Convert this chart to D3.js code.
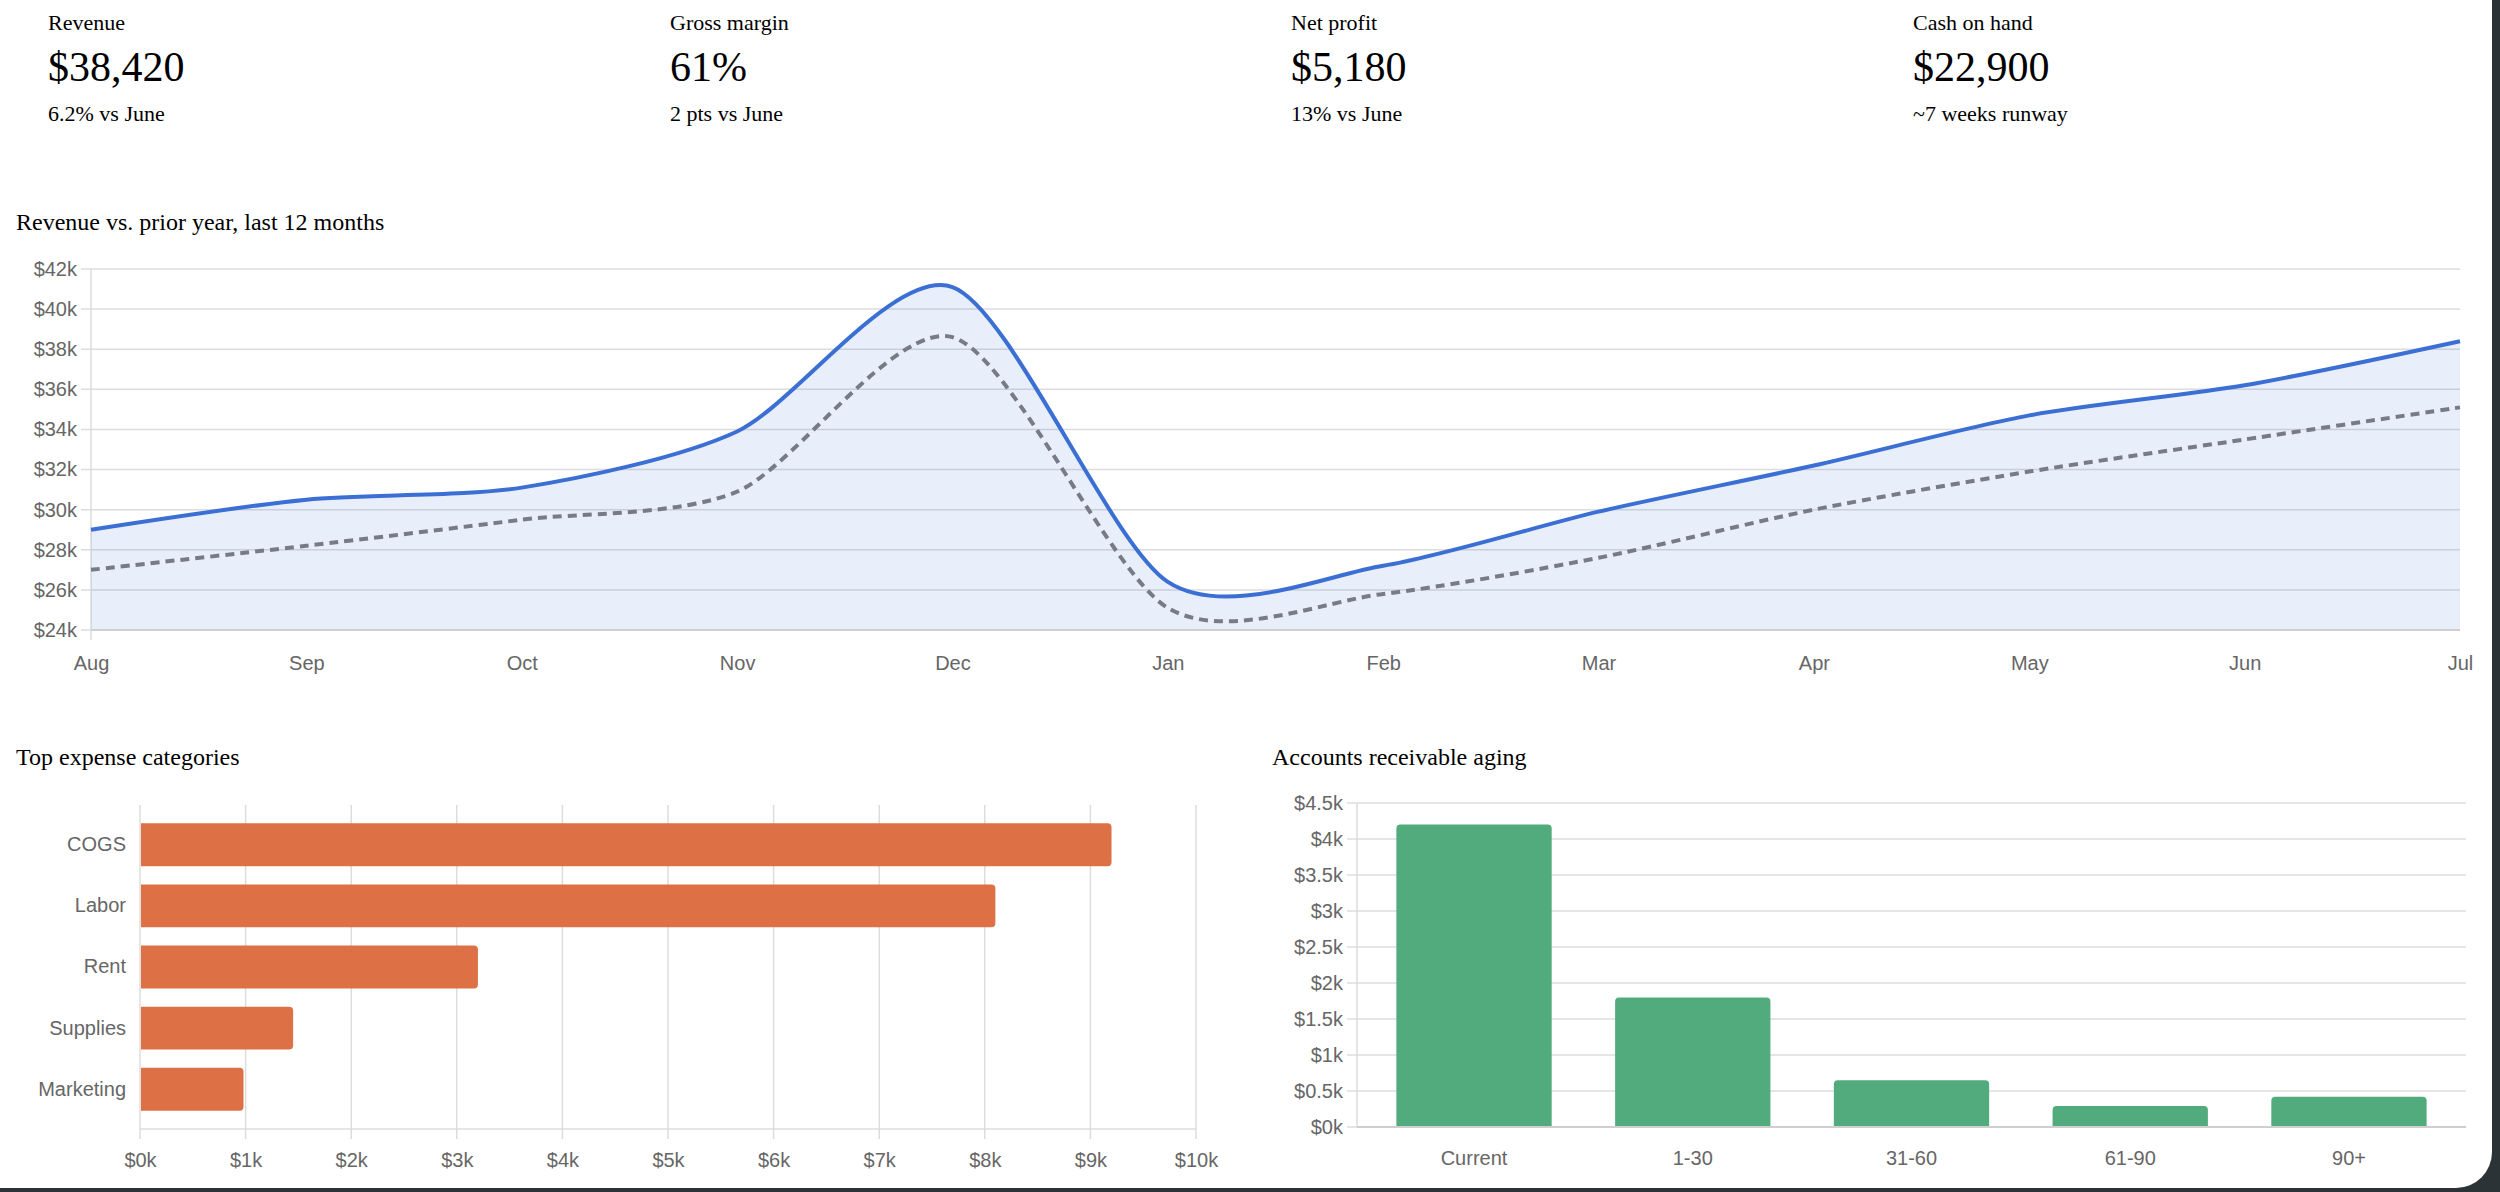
<!DOCTYPE html>
<html><head><meta charset="utf-8">
<script src="https://cdn.jsdelivr.net/npm/d3@7"></script>
<style>
html,body{margin:0;padding:0;background:#2b3336;}
#card{position:absolute;left:0;top:0;width:2492px;height:1188px;background:#fff;border-bottom-right-radius:36px;overflow:hidden;}
svg{display:block;}
</style></head><body><div id="card"><svg id="c" width="2492" height="1188"></svg></div>
<script>
const kpiLabels=["Revenue","Gross margin","Net profit","Cash on hand"];
const kpiValues=["$38,420","61%","$5,180","$22,900"];
const kpiSubs=["6.2% vs June","2 pts vs June","13% vs June","~7 weeks runway"];
const months=["Aug","Sep","Oct","Nov","Dec","Jan","Feb","Mar","Apr","May","Jun","Jul"];
const revenue=[29000,30500,31100,33900,41100,26400,27200,29900,32200,34700,36200,38400];
const priorYear=[27000,28200,29500,30900,38600,25100,25800,27600,30000,31900,33500,35100];
const revTicks=[24000,26000,28000,30000,32000,34000,36000,38000,40000,42000];
const expCats=["COGS","Labor","Rent","Supplies","Marketing"];
const expVals=[9200,8100,3200,1450,980];
const expTicks=[0,1000,2000,3000,4000,5000,6000,7000,8000,9000,10000];
const arCats=["Current","1-30","31-60","61-90","90+"];
const arVals=[4200,1800,650,290,420];
const arTicks=[0,500,1000,1500,2000,2500,3000,3500,4000,4500];

const svg=d3.select("#c");
const serif="'Liberation Serif','Times New Roman',serif";
const sans="'Liberation Sans',Arial,Helvetica,sans-serif";
const grid="#dcdcdc", tickCol="#666";
const kfmt=v=>"$"+(v/1000)+"k";

// KPIs
const kx=[48,670,1291,1913];
kpiLabels.forEach((l,i)=>{
  const g=svg.append("g").attr("transform",`translate(${kx[i]},0)`).style("font-family",serif).attr("fill","#000");
  g.append("text").attr("y",30).attr("font-size",22).text(l);
  g.append("text").attr("y",81).attr("font-size",42).text(kpiValues[i]);
  g.append("text").attr("y",121).attr("font-size",22).text(kpiSubs[i]);
});

function title(x,y,t){svg.append("text").attr("x",x).attr("y",y).attr("font-family",serif).attr("font-size",24).text(t);}

// Line chart
title(16,230,"Revenue vs. prior year, last 12 months");
const L={l:91,r:2460,t:269,b:630};
const x=d3.scalePoint().domain(months).range([L.l,L.r]);
const y=d3.scaleLinear().domain([24000,42000]).range([L.b,L.t]);
const lg=svg.append("g");
revTicks.forEach(t=>{lg.append("line").attr("x1",L.l-10).attr("x2",L.r).attr("y1",y(t)).attr("y2",y(t)).attr("stroke",grid).attr("stroke-width",1.5);});
lg.append("line").attr("x1",L.l).attr("x2",L.l).attr("y1",L.t).attr("y2",L.b+10).attr("stroke",grid).attr("stroke-width",1.5);
const ya=svg.append("g").attr("transform",`translate(${L.l-10},0)`).call(d3.axisLeft(y).tickValues(revTicks).tickFormat(kfmt).tickSize(0).tickPadding(4));
const xa=svg.append("g").attr("transform",`translate(0,${L.b+10})`).call(d3.axisBottom(x).tickSize(0).tickPadding(16));
[ya,xa].forEach(a=>{a.select(".domain").remove();a.selectAll("text").attr("font-family",sans).attr("font-size",20).attr("fill",tickCol);});
const curve=d3.curveCardinal.tension(0.2);
svg.append("path").datum(revenue).attr("d",d3.area().x((d,i)=>x(months[i])).y0(y(24000)).y1(d=>y(d)).curve(curve)).attr("fill","rgba(59,111,212,0.11)");
svg.append("path").datum(priorYear).attr("d",d3.line().x((d,i)=>x(months[i])).y(d=>y(d)).curve(curve)).attr("fill","none").attr("stroke","#777b85").attr("stroke-width",4).attr("stroke-dasharray","9,6");
svg.append("path").datum(revenue).attr("d",d3.line().x((d,i)=>x(months[i])).y(d=>y(d)).curve(curve)).attr("fill","none").attr("stroke","#3b6fd4").attr("stroke-width",4);
svg.append("line").attr("x1",L.l).attr("x2",L.r).attr("y1",L.b).attr("y2",L.b).attr("stroke","#cfcfcf").attr("stroke-width",2);

// Expense bars
title(16,765,"Top expense categories");
const E={l:140,r:1196,t:805,b:1129};
const ex=d3.scaleLinear().domain([0,10000]).range([E.l,E.r]);
const ey=d3.scaleBand().domain(expCats).range([E.t,E.b]).padding(0.3);
expTicks.forEach(t=>svg.append("line").attr("x1",ex(t)).attr("x2",ex(t)).attr("y1",E.t).attr("y2",E.b+10).attr("stroke",grid).attr("stroke-width",1.5));
svg.append("line").attr("x1",E.l).attr("x2",E.r).attr("y1",E.b).attr("y2",E.b).attr("stroke",grid).attr("stroke-width",1.5);
const eya=svg.append("g").attr("transform",`translate(${E.l-10},0)`).call(d3.axisLeft(ey).tickSize(0).tickPadding(4));
const exa=svg.append("g").attr("transform",`translate(0,${E.b+10})`).call(d3.axisBottom(ex).tickValues(expTicks).tickFormat(kfmt).tickSize(0).tickPadding(14));
[eya,exa].forEach(a=>{a.select(".domain").remove();a.selectAll("text").attr("font-family",sans).attr("font-size",20).attr("fill",tickCol);});
svg.append("g").selectAll("path").data(expVals).join("path").attr("fill","#dd7044")
 .attr("d",(d,i)=>{const x0=ex(0)+1,x1=ex(d),y0=ey(expCats[i]),h=ey.bandwidth(),r=4;
   return `M${x0},${y0}H${x1-r}Q${x1},${y0} ${x1},${y0+r}V${y0+h-r}Q${x1},${y0+h} ${x1-r},${y0+h}H${x0}Z`;});

// AR bars
title(1272,765,"Accounts receivable aging");
const A={l:1357,r:2466,t:803,b:1127};
const ax=d3.scaleBand().domain(arCats).range([A.l,A.r]).paddingInner(0.29).paddingOuter(0.18);
const ay=d3.scaleLinear().domain([0,4500]).range([A.b,A.t]);
arTicks.forEach(t=>svg.append("line").attr("x1",A.l-10).attr("x2",A.r).attr("y1",ay(t)).attr("y2",ay(t)).attr("stroke",grid).attr("stroke-width",1.5));
svg.append("line").attr("x1",A.l).attr("x2",A.l).attr("y1",A.t).attr("y2",A.b).attr("stroke",grid).attr("stroke-width",1.5);
const aya=svg.append("g").attr("transform",`translate(${A.l-10},0)`).call(d3.axisLeft(ay).tickValues(arTicks).tickFormat(kfmt).tickSize(0).tickPadding(4));
const axa=svg.append("g").attr("transform",`translate(0,${A.b+10})`).call(d3.axisBottom(ax).tickSize(0).tickPadding(14));
[aya,axa].forEach(a=>{a.select(".domain").remove();a.selectAll("text").attr("font-family",sans).attr("font-size",20).attr("fill",tickCol);});
svg.append("g").selectAll("path").data(arVals).join("path").attr("fill","#52ab7c")
 .attr("d",(d,i)=>{const x0=ax(arCats[i]),w=ax.bandwidth(),y0=ay(d),y1=ay(0)-1,r=4;
   return `M${x0},${y1}V${y0+r}Q${x0},${y0} ${x0+r},${y0}H${x0+w-r}Q${x0+w},${y0} ${x0+w},${y0+r}V${y1}Z`;});
svg.append("line").attr("x1",A.l).attr("x2",A.r).attr("y1",A.b).attr("y2",A.b).attr("stroke","#cfcfcf").attr("stroke-width",2);
</script></body></html>
